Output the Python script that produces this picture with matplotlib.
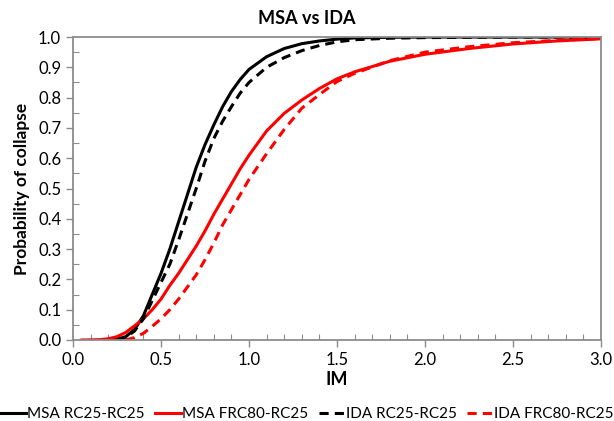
import matplotlib
matplotlib.use("Agg")
from matplotlib import pyplot as plt
from matplotlib.ticker import MultipleLocator

plt.rcParams['font.family'] = ['Lato', 'DejaVu Sans']

# MSA RC25-RC25 (black solid)
msa_rc_im = [0.20, 0.25, 0.30, 0.35, 0.40, 0.45, 0.50, 0.55, 0.60, 0.65, 0.70, 0.75, 0.80,
             0.85, 0.90, 0.95, 1.00, 1.10, 1.20, 1.30, 1.40, 1.50, 1.60, 1.80, 2.00, 2.50, 3.00]
msa_rc_p = [0.0, 0.003, 0.011, 0.035, 0.08, 0.15, 0.22, 0.30, 0.39, 0.48, 0.57, 0.645, 0.71,
            0.77, 0.82, 0.86, 0.893, 0.935, 0.962, 0.978, 0.987, 0.993, 0.997, 0.999, 1.0, 1.0, 1.0]

# MSA FRC80-RC25 (red solid)
msa_frc_im = [0.05, 0.10, 0.15, 0.20, 0.25, 0.30, 0.35, 0.40, 0.45, 0.50, 0.55, 0.60, 0.65, 0.70,
              0.75, 0.80, 0.85, 0.90, 0.95, 1.00, 1.10, 1.20, 1.30, 1.40, 1.50, 1.60, 1.80, 2.00,
              2.25, 2.50, 2.75, 3.00]
msa_frc_p = [0.0, 0.0005, 0.001, 0.004, 0.011, 0.025, 0.047, 0.07, 0.10, 0.135, 0.18, 0.22, 0.265,
             0.31, 0.36, 0.415, 0.465, 0.515, 0.565, 0.61, 0.69, 0.748, 0.792, 0.83, 0.862, 0.885,
             0.92, 0.943, 0.962, 0.977, 0.987, 0.994]

# IDA RC25-RC25 (black dashed)
ida_rc_im = [0.25, 0.30, 0.35, 0.40, 0.45, 0.50, 0.55, 0.60, 0.65, 0.70, 0.75, 0.80, 0.85, 0.90,
             0.95, 1.00, 1.10, 1.20, 1.30, 1.40, 1.50, 1.60, 1.80, 2.00, 2.50, 3.00]
ida_rc_p = [0.0, 0.008, 0.03, 0.07, 0.13, 0.19, 0.25, 0.33, 0.415, 0.50, 0.59, 0.665, 0.722, 0.77,
            0.815, 0.85, 0.90, 0.932, 0.955, 0.972, 0.984, 0.991, 0.996, 0.998, 1.0, 1.0]

# IDA FRC80-RC25 (red dashed)
ida_frc_im = [0.30, 0.35, 0.40, 0.45, 0.50, 0.55, 0.60, 0.65, 0.70, 0.75, 0.80, 0.85, 0.90, 0.95,
              1.00, 1.10, 1.20, 1.30, 1.40, 1.50, 1.60, 1.80, 2.00, 2.25, 2.50, 2.75, 3.00]
ida_frc_p = [0.0, 0.008, 0.022, 0.045, 0.07, 0.10, 0.135, 0.175, 0.215, 0.265, 0.32, 0.38, 0.43,
             0.48, 0.53, 0.615, 0.695, 0.765, 0.81, 0.853, 0.88, 0.922, 0.95, 0.968, 0.981, 0.989,
             0.995]

fig = plt.figure(figsize=(6.14, 4.21), dpi=100)
ax = fig.add_axes([0.1189, 0.1924, 0.86, 0.7197])

lw = 2.2
ax.plot(msa_rc_im, msa_rc_p, color='black', lw=lw, label='MSA RC25-RC25')
ax.plot(msa_frc_im, msa_frc_p, color='red', lw=lw, label='MSA FRC80-RC25')
ax.plot(ida_rc_im, ida_rc_p, color='black', lw=lw, dashes=(3, 2), label='IDA RC25-RC25')
ax.plot(ida_frc_im, ida_frc_p, color='red', lw=lw, dashes=(3, 2), label='IDA FRC80-RC25')

ax.set_xlim(0, 3.0)
ax.set_ylim(0, 1.0)
ax.xaxis.set_major_locator(MultipleLocator(0.5))
ax.xaxis.set_minor_locator(MultipleLocator(0.1))
ax.yaxis.set_major_locator(MultipleLocator(0.1))
ax.yaxis.set_minor_locator(MultipleLocator(0.05))
ax.xaxis.set_major_formatter(lambda v, p: f'{v:.1f}')
ax.yaxis.set_major_formatter(lambda v, p: f'{v:.1f}')

grey = '#8c8c8c'
for s in ax.spines.values():
    s.set_color(grey)
    s.set_linewidth(1.3)
ax.tick_params(which='major', direction='out', length=5, color=grey, width=1, labelsize=12)
ax.tick_params(which='minor', direction='in', length=4, color=grey, width=0.8)

fig.text(0.5, 1 - 19 / 421, 'MSA vs IDA', ha='center', va='center',
         fontsize=13, fontweight='bold')
ax.set_xlabel('IM', fontsize=13, fontweight='bold', labelpad=2)
ax.set_ylabel('Probability of collapse', fontsize=12.5, fontweight='bold', labelpad=6)

fig.legend(loc='lower center', bbox_to_anchor=(0.5, -0.015), ncol=4, frameon=False,
           fontsize=11, handlelength=1.7, handletextpad=0.05, columnspacing=0.7,
           borderaxespad=0.0)

fig.savefig('out.png', dpi=100)
